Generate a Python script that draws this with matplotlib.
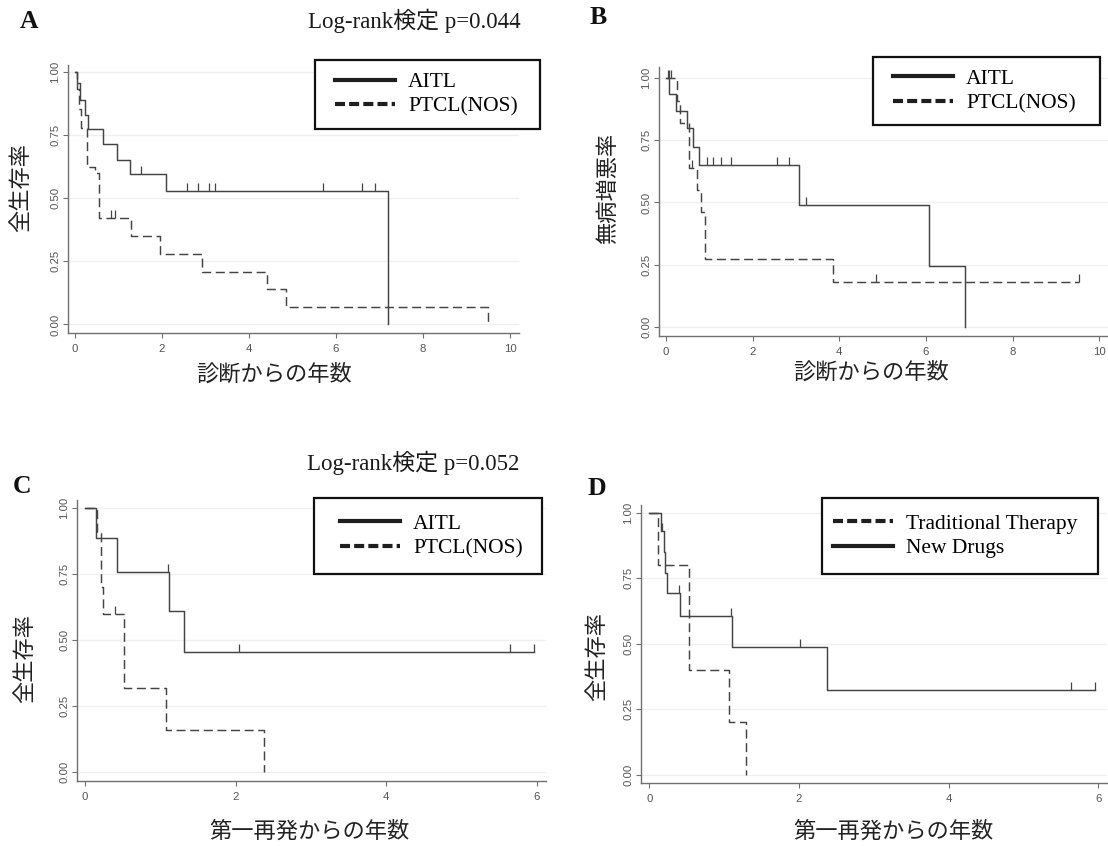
import matplotlib
matplotlib.use("Agg")
import matplotlib.pyplot as plt
from matplotlib.lines import Line2D
from matplotlib.patches import Rectangle
from matplotlib.path import Path
import numpy as np

# ---- values ----
# A: overall survival from diagnosis
a_aitl_t = [0, 0.05, 0.11, 0.22, 0.30, 0.64, 0.96, 1.26, 2.09, 7.19]
a_aitl_s = [1.0, 0.955, 0.888, 0.830, 0.772, 0.712, 0.652, 0.593, 0.527, 0.0]
a_aitl_cens = [1.52, 2.57, 2.82, 3.09, 3.22, 5.71, 6.59, 6.90]
a_ptcl_t = [0, 0.05, 0.10, 0.14, 0.27, 0.45, 0.55, 1.28, 1.96, 2.93, 4.41, 4.85, 9.50]
a_ptcl_s = [1.0, 0.93, 0.85, 0.776, 0.624, 0.60, 0.42, 0.349, 0.277, 0.207, 0.139, 0.067, 0.0]
a_ptcl_cens = [0.83, 0.93]

# B: progression-free survival from diagnosis
b_aitl_t = [0, 0.08, 0.23, 0.48, 0.63, 0.77, 3.06, 6.08, 6.89]
b_aitl_s = [1.0, 0.936, 0.870, 0.799, 0.725, 0.651, 0.489, 0.246, 0.0]
b_aitl_cens = [0.04, 0.06, 0.95, 1.09, 1.26, 1.49, 2.57, 2.84, 3.23]
b_ptcl_t = [0, 0.25, 0.32, 0.52, 0.71, 0.81, 0.91, 3.86, 9.53]
b_ptcl_s = [1.0, 0.91, 0.82, 0.64, 0.55, 0.46, 0.273, 0.182, 0.182]
b_ptcl_cens = [0.12, 0.59, 4.85, 9.53]

# C: overall survival from first relapse
c_aitl_t = [0, 0.14, 0.43, 1.11, 1.31, 5.96]
c_aitl_s = [1.0, 0.886, 0.76, 0.609, 0.456, 0.456]
c_aitl_cens = [1.10, 2.05, 5.64, 5.96]
c_ptcl_t = [0, 0.155, 0.21, 0.235, 0.52, 1.07, 2.38]
c_ptcl_s = [1.0, 0.905, 0.70, 0.60, 0.32, 0.16, 0.0]
c_ptcl_cens = [0.40]

# D: overall survival from first relapse, by therapy
d_new_t = [0, 0.15, 0.19, 0.21, 0.23, 0.41, 1.10, 2.37, 5.95]
d_new_s = [1.0, 0.93, 0.85, 0.77, 0.695, 0.607, 0.486, 0.324, 0.324]
d_new_cens = [0.17, 0.40, 1.09, 2.02, 5.63, 5.95]
d_trad_t = [0, 0.12, 0.53, 1.06, 1.29]
d_trad_s = [1.0, 0.80, 0.40, 0.20, 0.0]
d_trad_cens = []

yticks = [0, 0.25, 0.5, 0.75, 1.0]
ytick_labels = ["0.00", "0.25", "0.50", "0.75", "1.00"]

W, H = 1108, 846
plt.rcParams['lines.scale_dashes'] = False
plt.rcParams['font.family'] = ['Liberation Sans', 'DejaVu Sans']
fig = plt.figure(figsize=(W / 100, H / 100), dpi=100)

SERIF = ['Liberation Serif', 'Noto Sans CJK JP']
CJK = ['Noto Sans CJK JP', 'DejaVu Sans']
CURVE = '#444444'
DASH = (0, (6.5, 3.3))
tick_mark = Path([(0, 0), (0, 1)], [Path.MOVETO, Path.LINETO])


def px_axes(l, t, r, b):
    return fig.add_axes([l / W, 1 - b / H, (r - l) / W, (b - t) / H])


def km(ax, t, s, cens, dashed):
    ax.step(t, s, where='post', color=CURVE, lw=1.05,
            linestyle=DASH if dashed else '-', zorder=3)
    if len(cens):
        idx = np.searchsorted(t, cens, side='right') - 1
        ax.plot(cens, np.array(s)[idx], linestyle='none', marker=tick_mark,
                ms=11, mew=0.9, color=CURVE, zorder=3)


def style(ax, xlim, ylim, xticks):
    ax.set_xlim(*xlim)
    ax.set_ylim(*ylim)
    ax.set_xticks(xticks)
    ax.set_yticks(yticks)
    ax.set_yticklabels(ytick_labels)
    for s in ['top', 'right']:
        ax.spines[s].set_visible(False)
    for s in ['left', 'bottom']:
        ax.spines[s].set_color('#707070')
        ax.spines[s].set_linewidth(1.0)
    ax.tick_params(direction='out', length=3.6, width=0.8, color='#707070',
                   labelsize=8.2, labelcolor='#555555')
    ax.tick_params(axis='x', pad=4)
    ax.tick_params(axis='y', pad=2, labelrotation=90)
    for lbl in ax.get_yticklabels():
        lbl.set_va('center')
    ax.grid(axis='y', color='#efefef', lw=0.9)
    ax.set_axisbelow(True)


def legend_box(l, t, r, b, handles, labels, hx):
    fig.patches.append(Rectangle((l / W, 1 - b / H), (r - l) / W, (b - t) / H,
                                 transform=fig.transFigure, facecolor='white',
                                 edgecolor='#111111', lw=1.6, zorder=4))
    fig.legend(handles, labels, loc='center left',
               bbox_to_anchor=(hx / W, 1 - (t + b) / 2 / H), frameon=False,
               borderpad=0, borderaxespad=0, handlelength=2.8, handletextpad=0.6,
               labelspacing=0.22, prop={'family': SERIF, 'size': 15.5})


solid_h = Line2D([], [], color='#1e1e1e', lw=3.0)
dash_h = Line2D([], [], color='#1e1e1e', lw=3.0, linestyle=(0, (7.2, 3.0)))

# panel A
axA = px_axes(68, 65, 519, 333)
km(axA, a_aitl_t, a_aitl_s, a_aitl_cens, False)
km(axA, a_ptcl_t, a_ptcl_s, a_ptcl_cens, True)
style(axA, (-0.161, 10.207), (-0.034, 1.026), [0, 2, 4, 6, 8, 10])

# panel B
axB = px_axes(659, 67, 1108, 336)
km(axB, b_aitl_t, b_aitl_s, b_aitl_cens, False)
km(axB, b_ptcl_t, b_ptcl_s, b_ptcl_cens, True)
style(axB, (-0.162, 10.2), (-0.037, 1.045), [0, 2, 4, 6, 8, 10])

# panel C
axC = px_axes(77, 500, 546, 781)
km(axC, c_aitl_t, c_aitl_s, c_aitl_cens, False)
km(axC, c_ptcl_t, c_ptcl_s, c_ptcl_cens, True)
style(axC, (-0.106, 6.12), (-0.033, 1.031), [0, 2, 4, 6])

# panel D
axD = px_axes(641, 505, 1107, 783)
km(axD, d_new_t, d_new_s, d_new_cens, False)
km(axD, d_trad_t, d_trad_s, d_trad_cens, True)
style(axD, (-0.111, 6.116), (-0.031, 1.029), [0, 2, 4, 6])

# legends
legend_box(315, 60, 540, 129, [solid_h, dash_h], ['AITL', 'PTCL(NOS)'], 335)
legend_box(873, 57, 1100, 125, [solid_h, dash_h], ['AITL', 'PTCL(NOS)'], 893)
legend_box(314, 498, 542, 574, [solid_h, dash_h], ['AITL', 'PTCL(NOS)'], 340)
legend_box(822, 498, 1098, 574, [dash_h, solid_h], ['Traditional Therapy', 'New Drugs'], 833)


def ftext(x, y, s, **kw):
    fig.text(x / W, 1 - y / H, s, ha='center', va='center', **kw)


# axis labels
ftext(21, 187, '全生存率', rotation=90, family=CJK, size=16, color='#222222')
ftext(608, 188, '無病増悪率', rotation=90, family=CJK, size=16, color='#222222')
ftext(25, 658, '全生存率', rotation=90, family=CJK, size=16, color='#222222')
ftext(597, 656, '全生存率', rotation=90, family=CJK, size=16, color='#222222')
ftext(274, 374, '診断からの年数', family=CJK, size=16, color='#222222')
ftext(871, 372, '診断からの年数', family=CJK, size=16, color='#222222')
ftext(309, 831, '第一再発からの年数', family=CJK, size=16, color='#222222')
ftext(893, 831, '第一再発からの年数', family=CJK, size=16, color='#222222')

# titles and panel letters
ftext(414, 21, 'Log-rank検定 p=0.044', family=SERIF, size=16.5, color='#1a1a1a')
ftext(413, 463, 'Log-rank検定 p=0.052', family=SERIF, size=16.5, color='#1a1a1a')
for letter, x, y in [('A', 29, 22), ('B', 598, 18), ('C', 22, 486), ('D', 597, 488)]:
    ftext(x, y, letter, family='Liberation Serif', weight='bold', size=18.5, color='#111111')

fig.savefig('out.png', dpi=100)
